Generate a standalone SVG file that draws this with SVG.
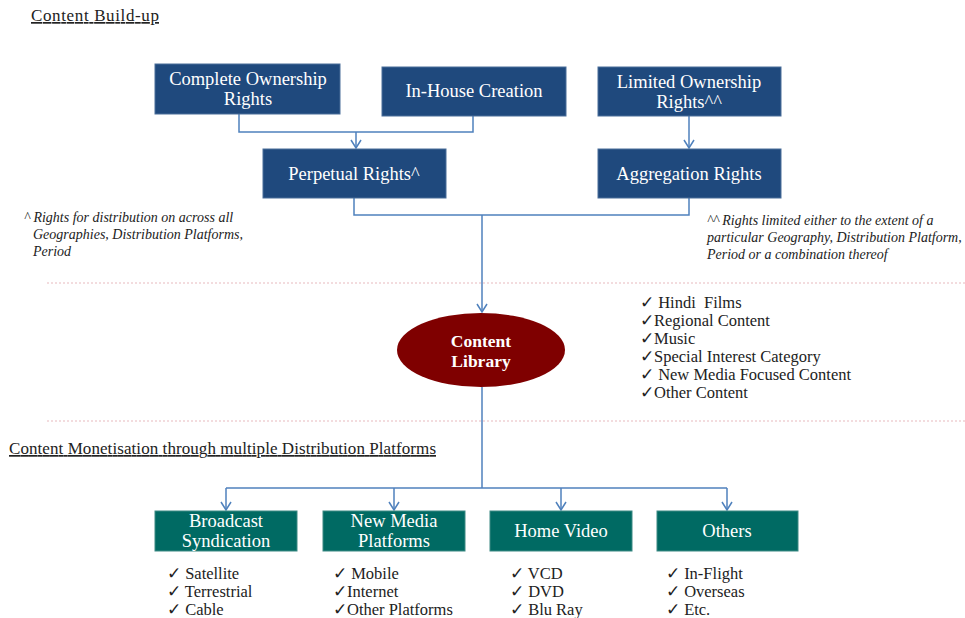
<svg xmlns="http://www.w3.org/2000/svg" width="965" height="618" viewBox="0 0 965 618">
  <defs>
    <!-- open chevron arrowhead, pointing along +x so orient="auto" aligns it with the line -->
    <marker id="arrow" viewBox="0 0 10 12" refX="9" refY="6" markerWidth="10" markerHeight="12" markerUnits="userSpaceOnUse" orient="auto">
      <path d="M1,1 L9,6 L1,11" fill="none" stroke="#4F81BD" stroke-width="1.5"/>
    </marker>
    <style>
      text { font-family: "Liberation Serif", "DejaVu Serif", serif; }
      .hdr { font-size: 17px; fill: #222; text-decoration: underline; }
      .navy { fill: #1F497D; stroke: #4A6E9A; stroke-width: 1; }
      .teal { fill: #006A63; stroke: #3D8A84; stroke-width: 1; }
      .lbl { font-size: 18.5px; fill: #fff; text-anchor: middle; }
      .note { font-size: 14px; font-style: italic; fill: #222; }
      .chk { font-size: 16.5px; fill: #222; white-space: pre; }
      .conn { fill: none; stroke: #4F81BD; stroke-width: 1.5; }
      .sep { stroke: #E7B9BD; stroke-width: 1; stroke-dasharray: 2 2; }
    </style>
  </defs>
  <rect width="965" height="618" fill="#fff"/>

  <!-- section headings -->
  <text class="hdr" x="31" y="21" textLength="128" lengthAdjust="spacing">Content Build-up</text>
  <text class="hdr" x="9" y="454" textLength="427" lengthAdjust="spacing">Content Monetisation through multiple Distribution Platforms</text>

  <!-- dotted separators -->
  <line class="sep" x1="47" y1="283" x2="965" y2="283"/>
  <line class="sep" x1="47" y1="421" x2="965" y2="421"/>

  <!-- connectors -->
  <g id="connectors">
    <path class="conn" d="M239,114 V132 H473 V116"/>
    <path class="conn" d="M356,132 V148" marker-end="url(#arrow)"/>
    <path class="conn" d="M689,116 V148" marker-end="url(#arrow)"/>
    <path class="conn" d="M354,198 V215 H689 V198"/>
    <path class="conn" d="M482,215 V312" marker-end="url(#arrow)"/>
    <path class="conn" d="M482,387 V488"/>
    <path class="conn" d="M226,488 H727"/>
    <path class="conn" d="M226,488 V510" marker-end="url(#arrow)"/>
    <path class="conn" d="M394,488 V510" marker-end="url(#arrow)"/>
    <path class="conn" d="M561,488 V510" marker-end="url(#arrow)"/>
    <path class="conn" d="M727,488 V510" marker-end="url(#arrow)"/>
  </g>

  <!-- content build-up -->
  <g id="complete-ownership">
    <rect class="navy" x="155" y="64" width="185" height="50"/>
    <text class="lbl" x="248" y="85">Complete Ownership</text>
    <text class="lbl" x="248" y="105">Rights</text>
  </g>
  <g id="in-house">
    <rect class="navy" x="382" y="67" width="184" height="49"/>
    <text class="lbl" x="474" y="97">In-House Creation</text>
  </g>
  <g id="limited-ownership">
    <rect class="navy" x="598" y="67" width="183" height="49"/>
    <text class="lbl" x="689" y="88">Limited Ownership</text>
    <text class="lbl" x="689" y="108">Rights^^</text>
  </g>
  <g id="perpetual">
    <rect class="navy" x="263" y="149" width="183" height="49"/>
    <text class="lbl" x="354" y="180">Perpetual Rights^</text>
  </g>
  <g id="aggregation">
    <rect class="navy" x="598" y="149" width="183" height="49"/>
    <text class="lbl" x="689" y="180">Aggregation Rights</text>
  </g>

  <!-- footnotes -->
  <g id="note-perpetual">
    <text class="note" x="24" y="222">^ Rights for distribution on across all</text>
    <text class="note" x="33" y="239">Geographies, Distribution Platforms,</text>
    <text class="note" x="33" y="256">Period</text>
  </g>
  <g id="note-limited">
    <text class="note" x="707" y="225">^^ Rights limited either to the extent of a</text>
    <text class="note" x="707" y="242">particular Geography, Distribution Platform,</text>
    <text class="note" x="707" y="259">Period or a combination thereof</text>
  </g>

  <!-- library -->
  <g id="content-library">
    <ellipse cx="481" cy="350" rx="84" ry="37" fill="#7F0000"/>
    <text x="481" y="347" font-size="17.5" font-weight="bold" fill="#fff" text-anchor="middle">Content</text>
    <text x="481" y="367" font-size="17.5" font-weight="bold" fill="#fff" text-anchor="middle">Library</text>
  </g>
  <g id="library-list">
    <text class="chk" x="640" y="308">✓ Hindi  Films</text>
    <text class="chk" x="640" y="326">✓Regional Content</text>
    <text class="chk" x="640" y="344">✓Music</text>
    <text class="chk" x="640" y="362">✓Special Interest Category</text>
    <text class="chk" x="640" y="380">✓ New Media Focused Content</text>
    <text class="chk" x="640" y="398">✓Other Content</text>
  </g>

  <!-- distribution platforms -->
  <g id="broadcast">
    <rect class="teal" x="155" y="511" width="142" height="40"/>
    <text class="lbl" x="226" y="527">Broadcast</text>
    <text class="lbl" x="226" y="547">Syndication</text>
  </g>
  <g id="new-media">
    <rect class="teal" x="323" y="511" width="142" height="40"/>
    <text class="lbl" x="394" y="527">New Media</text>
    <text class="lbl" x="394" y="547">Platforms</text>
  </g>
  <g id="home-video">
    <rect class="teal" x="490" y="511" width="142" height="40"/>
    <text class="lbl" x="561" y="537">Home Video</text>
  </g>
  <g id="others">
    <rect class="teal" x="657" y="511" width="141" height="40"/>
    <text class="lbl" x="727" y="537">Others</text>
  </g>

  <g id="broadcast-list">
    <text class="chk" x="167" y="579">✓ Satellite</text>
    <text class="chk" x="167" y="597">✓ Terrestrial</text>
    <text class="chk" x="167" y="615">✓ Cable</text>
  </g>
  <g id="new-media-list">
    <text class="chk" x="333" y="579">✓ Mobile</text>
    <text class="chk" x="333" y="597">✓Internet</text>
    <text class="chk" x="333" y="615">✓Other Platforms</text>
  </g>
  <g id="home-video-list">
    <text class="chk" x="510" y="579">✓ VCD</text>
    <text class="chk" x="510" y="597">✓ DVD</text>
    <text class="chk" x="510" y="615">✓ Blu Ray</text>
  </g>
  <g id="others-list">
    <text class="chk" x="666" y="579">✓ In-Flight</text>
    <text class="chk" x="666" y="597">✓ Overseas</text>
    <text class="chk" x="666" y="615">✓ Etc.</text>
  </g>
</svg>
